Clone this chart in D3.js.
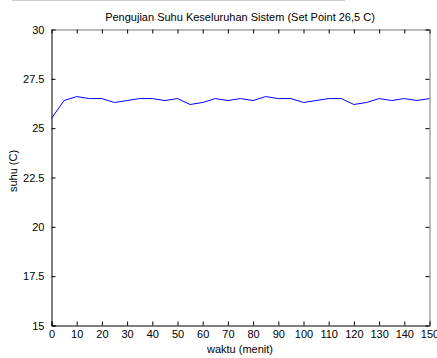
<!DOCTYPE html>
<html><head><meta charset="utf-8">
<script src="https://cdn.jsdelivr.net/npm/d3@7"></script>
<style>body{margin:0;background:#fff}svg{display:block}text{font-family:"Liberation Sans",Arial,sans-serif}</style>
</head><body>
<script>
const times = [0,5,10,15,20,25,30,35,40,45,50,55,60,65,70,75,80,85,90,95,100,105,110,115,120,125,130,135,140,145,150];
const suhu = [25.5,26.4,26.6,26.5,26.5,26.3,26.4,26.5,26.5,26.4,26.5,26.2,26.3,26.5,26.4,26.5,26.4,26.6,26.5,26.5,26.3,26.4,26.5,26.5,26.2,26.3,26.5,26.4,26.5,26.4,26.5];
const xTicks = [0,10,20,30,40,50,60,70,80,90,100,110,120,130,140,150];
const yTicks = [15,17.5,20,22.5,25,27.5,30];
const title = "Pengujian Suhu Keseluruhan Sistem (Set Point 26,5 C)";
const xLabel = "waktu (menit)";
const yLabel = "suhu (C)";

const W=437,H=358, L=51.5, R=429.5, T=29.5, B=325.5;
const svg=d3.select("body").append("svg").attr("width",W).attr("height",H);
svg.append("line").attr("x1",12).attr("x2",345).attr("y1",0.5).attr("y2",0.5).attr("stroke","#ccc");
const x=d3.scaleLinear().domain([0,150]).range([L,R]);
const y=d3.scaleLinear().domain([15,30]).range([B,T]);

const fs="11px";
const xb=svg.append("g").attr("transform",`translate(0,${B})`).call(d3.axisBottom(x).tickValues(xTicks).tickSize(-4).tickPadding(9).tickFormat(d3.format("d")));
const yl=svg.append("g").attr("transform",`translate(${L},0)`).call(d3.axisLeft(y).tickValues(yTicks).tickSize(-4).tickPadding(7).tickFormat(d=>String(d)));
const xt=svg.append("g").attr("transform",`translate(0,${T})`).call(d3.axisTop(x).tickValues(xTicks).tickSize(-4).tickFormat(""));
const yr=svg.append("g").attr("transform",`translate(${R},0)`).call(d3.axisRight(y).tickValues(yTicks).tickSize(-4).tickFormat(""));
[xb,yl,xt,yr].forEach(g=>{g.selectAll("path").attr("stroke","#000").attr("stroke-width",1);g.selectAll("line").attr("stroke","#000");g.selectAll("text").attr("font-size",fs).attr("fill","#000").attr("font-family","'Liberation Sans',Arial,sans-serif");});
xt.select("path").attr("stroke","#777");
yr.select("path").attr("stroke","#777");
xb.selectAll("text").attr("dy","0.35em");

svg.append("path").datum(times.map((t,i)=>[t,suhu[i]]))
  .attr("fill","none").attr("stroke","#0000ff").attr("stroke-width",1)
  .attr("d",d3.line().x(d=>x(d[0])).y(d=>y(d[1])));

svg.append("text").attr("x",240).attr("y",21).attr("text-anchor","middle").attr("font-size",fs).text(title);
svg.append("text").attr("x",240).attr("y",353).attr("text-anchor","middle").attr("font-size",fs).text(xLabel);
svg.append("text").attr("transform","translate(17,171) rotate(-90)").attr("text-anchor","middle").attr("font-size",fs).text(yLabel);
</script>
</body></html>
